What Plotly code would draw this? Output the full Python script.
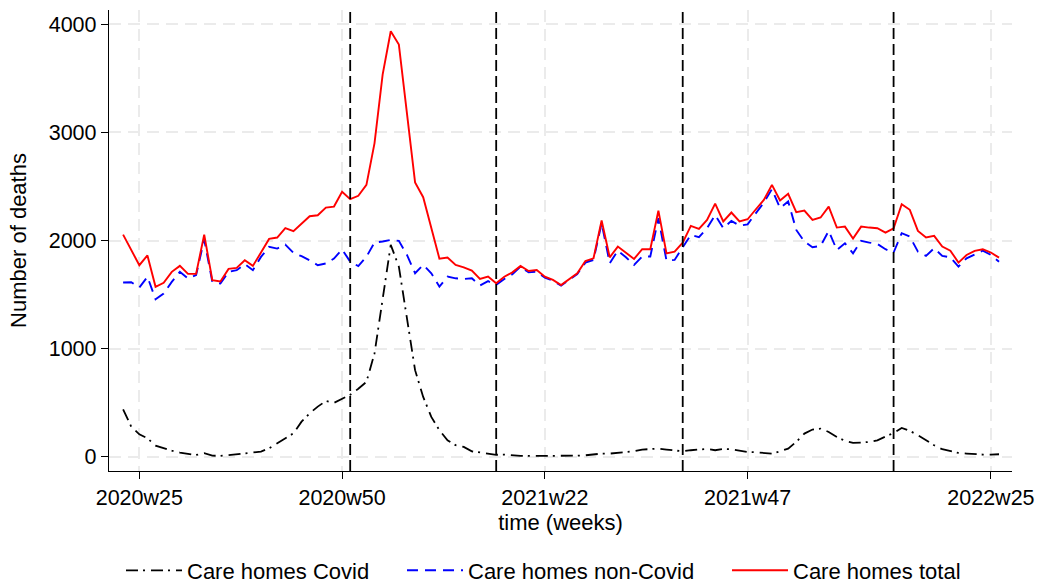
import plotly.graph_objects as go

# Weekly series, 2020w23 .. 2022w26 (index 0 .. 108)
covid = [440, 280, 209, 172, 105, 80, 58, 40, 28, 18,
         34, 12, 9, 18, 28, 34, 43, 49, 80, 126,
         166, 218, 326, 403, 465, 517, 500, 535, 575, 630,
         694, 957, 1481, 1960, 1759, 1265, 802, 555, 370, 247,
         154, 108, 93, 52, 40, 28, 20, 22, 15, 9,
         9, 9, 9, 9, 9, 8, 12, 15, 25, 31,
         31, 37, 43, 52, 68, 74, 77, 68, 62, 52,
         62, 68, 74, 62, 74, 71, 55, 46, 43, 40,
         31, 52, 77, 139, 216, 253, 262, 231, 185, 148,
         130, 133, 139, 154, 185, 222, 268, 241, 201, 154,
         108, 71, 52, 37, 31, 25, 22, 22, 25]

non_covid = [1612, 1615, 1566, 1665, 1458, 1511, 1618, 1711, 1649, 1680,
             2010, 1618, 1603, 1711, 1726, 1782, 1726, 1849, 1942, 1926,
             1963, 1886, 1855, 1818, 1772, 1788, 1834, 1918, 1805, 1764,
             1850, 1982, 1991, 2006, 1997, 1867, 1698, 1775, 1698, 1574,
             1667, 1651, 1645, 1651, 1585, 1625, 1590, 1645, 1688, 1759,
             1706, 1713, 1657, 1629, 1583, 1636, 1691, 1796, 1821, 2160,
             1790, 1907, 1845, 1774, 1852, 1852, 2206, 1815, 1821, 1938,
             2052, 2031, 2114, 2237, 2114, 2182, 2137, 2150, 2245, 2351,
             2475, 2299, 2361, 2098, 1991, 1938, 1950, 2089, 1913, 1975,
             1882, 1997, 1981, 1969, 1920, 1889, 2068, 2037, 1898, 1858,
             1929, 1858, 1845, 1759, 1836, 1873, 1907, 1867, 1805]

total = [2055, 1915, 1772, 1862, 1572, 1609, 1711, 1766, 1692, 1692,
         2055, 1634, 1622, 1738, 1748, 1818, 1766, 1889, 2015, 2028,
         2114, 2086, 2160, 2225, 2234, 2305, 2314, 2451, 2383, 2414,
         2515, 2901, 3534, 3935, 3811, 3170, 2537, 2401, 2130, 1833,
         1843, 1775, 1753, 1722, 1645, 1668, 1606, 1666, 1706, 1765,
         1719, 1728, 1666, 1636, 1589, 1645, 1697, 1811, 1836, 2185,
         1845, 1944, 1889, 1830, 1920, 1920, 2277, 1882, 1898, 1981,
         2136, 2108, 2191, 2342, 2176, 2259, 2176, 2197, 2287, 2376,
         2515, 2370, 2432, 2262, 2277, 2191, 2213, 2314, 2120, 2129,
         2018, 2129, 2120, 2114, 2074, 2114, 2336, 2284, 2089, 2028,
         2043, 1944, 1907, 1796, 1867, 1904, 1920, 1889, 1842]

weeks = list(range(len(total)))  # week index from 2020w23

tick_vals = [2, 27, 52, 77, 107]
tick_text = ["2020w25", "2020w50", "2021w22", "2021w47", "2022w25"]

ref_weeks = [28, 46, 69, 95]  # vertical dashed reference lines

y_ticks = [0, 1000, 2000, 3000, 4000]

FONT = "Liberation Sans, Arial, sans-serif"

fig = go.Figure()
fig.add_trace(go.Scatter(x=weeks, y=covid, mode="lines", name="Care homes Covid",
                         legend="legend",
                         line=dict(color="black", width=1.8, dash="12px,5px,2px,6px")))
fig.add_trace(go.Scatter(x=weeks, y=non_covid, mode="lines", name="Care homes non-Covid",
                         legend="legend2",
                         line=dict(color="#0000ff", width=1.9, dash="11px,7px")))
fig.add_trace(go.Scatter(x=weeks, y=total, mode="lines", name="Care homes total",
                         legend="legend3",
                         line=dict(color="#ff0000", width=1.9)))

for w in ref_weeks:
    fig.add_shape(type="line", xref="x", yref="paper", x0=w, x1=w, y0=0, y1=1,
                  line=dict(color="black", width=1.8, dash="11px,5px"), layer="above")

leg_common = dict(orientation="h", yanchor="middle", y=1 - (570.5 - 10) / 461,
                  xanchor="left", font=dict(size=22, family=FONT), itemwidth=56,
                  bgcolor="rgba(0,0,0,0)")

fig.update_layout(
    width=1040, height=583,
    margin=dict(l=109, r=28, t=10, b=112, autoexpand=False),
    paper_bgcolor="white", plot_bgcolor="white",
    font=dict(family=FONT, size=22, color="black"),
    showlegend=True,
    legend=dict(x=(121 - 109) / 903, **leg_common),
    legend2=dict(x=(402 - 109) / 903, **leg_common),
    legend3=dict(x=(727 - 109) / 903, **leg_common),
)
grid = dict(showgrid=True, gridcolor="#ebebeb", gridwidth=2, griddash="12px,7px")
fig.update_xaxes(
    range=[-1.74, 109.6], automargin=False,
    tickmode="array", tickvals=tick_vals, ticktext=tick_text,
    ticks="outside", ticklen=7, tickcolor="black", tickwidth=1,
    ticklabelstandoff=0,
    showline=True, linecolor="black", linewidth=1.3,
    zeroline=False,
    title=dict(text="time (weeks)", font=dict(size=22), standoff=4),
    tickfont=dict(size=21.5),
    **grid,
)
fig.update_yaxes(
    range=[-130, 4131], automargin=False,
    tickmode="array", tickvals=y_ticks,
    ticks="outside", ticklen=7, tickcolor="black", tickwidth=1,
    showline=True, linecolor="black", linewidth=1.3,
    zeroline=False,
    title=dict(text="Number of deaths", font=dict(size=22), standoff=16),
    tickfont=dict(size=21.5),
    **grid,
)

fig.write_html("out.html", config={"displayModeBar": False},
               post_script="document.body.style.margin='0';")
